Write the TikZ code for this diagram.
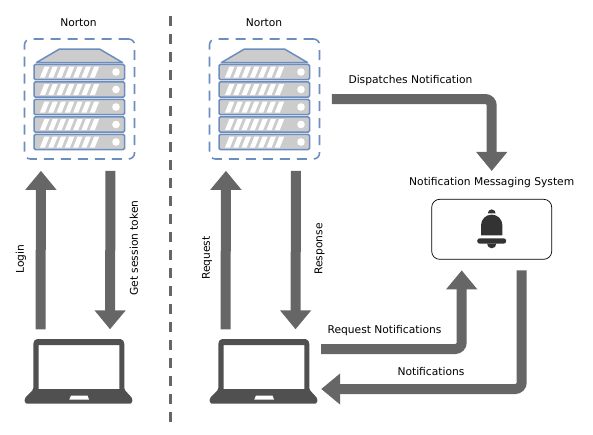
\documentclass[tikz,border=0pt]{standalone}
\usepackage{fontspec}
\setmainfont{DejaVu Sans}
\usetikzlibrary{arrows.meta, positioning}
\definecolor{serverblue}{HTML}{6C8EBF}
\definecolor{servergray}{HTML}{CCCCCC}
\definecolor{flowgray}{HTML}{666666}
\definecolor{laptopgray}{HTML}{505050}
\definecolor{bellgray}{HTML}{333333}
\tikzstyle{serverbox} = [rectangle, rounded corners=6pt, minimum width=110pt, minimum height=120pt, draw=serverblue, line width=1.6pt, dash pattern=on 10pt off 7pt]
\tikzstyle{laptopbox} = [rectangle, minimum width=108pt, minimum height=64pt]
\tikzstyle{bellbox} = [rectangle, rounded corners=8pt, minimum width=120pt, minimum height=60pt, draw=black, line width=0.7pt]
\tikzstyle{flow} = [line width=10pt, draw=flowgray, rounded corners=6.5pt, -{Triangle[width=30pt,length=19pt]}]
\tikzstyle{label} = [inner sep=0pt]
\tikzstyle{sidelabel} = [label, rotate=90]
\tikzset{
  server/.pic={
    \fill [servergray, draw=serverblue, line width=1.5pt, line join=round] (-43,36.5) -- (-20,50) -- (20,50) -- (43,36.5) -- cycle;
    \foreach \rowy in {27,9.5,-8,-25.5,-43} {
      \fill [servergray, draw=serverblue, line width=1.5pt, rounded corners=1.5pt] (-45.5,\rowy-7.7) rectangle (45,\rowy+7.7);
      \foreach \slash in {0,...,6} {
        \fill [white] (-39.5+\slash*8.3,\rowy-5.5) -- ++(5,0) -- ++(4.4,11) -- ++(-5,0) -- cycle;
      }
      \fill [white] (36.5,\rowy) circle (3.8);
    }
  },
  laptop/.pic={
    \fill [laptopgray, even odd rule, rounded corners=1.5pt] (-45.7,-18) -- (-45.7,29) -- (-43.7,32.3) -- (43.3,32.3) -- (45.3,29) -- (45.3,-18) -- (53.5,-27) -- (53,-32) -- (-54,-32) -- (-54.5,-27) -- cycle
      [sharp corners] (-40.3,26.5) rectangle (40.3,-17.5);
    \fill [white] (-8,-24) -- (8.5,-24) -- (10,-28) -- (-9.7,-28) -- cycle;
  },
  bell/.pic={
    \fill [bellgray] (0,0) -- (-10.7,0) -- (-10.7,10) arc (180:0:10.7) -- (10.7,0) -- cycle;
    \fill [bellgray] (-3.9,22) arc (180:0:3.9) -- cycle;
    \fill [bellgray, rounded corners=2.6pt] (-14.5,-8.4) rectangle (14.5,-3);
    \fill [bellgray] (-4.6,-8.4) arc (180:360:4.6);
  }
}

\begin{document}
\begin{tikzpicture}[x=1pt, y=1pt, node font=\fontsize{10.7}{13}\selectfont]
        \useasboundingbox (0,0) rectangle (593,-434);

        % Left side
        \node (serverA) [serverbox] at (79.5,-99) {};
        \pic at (serverA.center) {server};
        \node (laptopA) [laptopbox] at (79,-371.5) {};
        \pic at (laptopA.center) {laptop};
        \node (nortonA) [label] at (78.5,-22.7) {Norton};

        % Divider
        \coordinate (dividerTop) at (170,-16);
        \coordinate (dividerEnd) at (170,-422);
        \draw [draw=flowgray, line width=3pt, dash pattern=on 10pt off 8pt] (dividerTop) -- (dividerEnd);

        % Right side
        \node (serverB) [serverbox] at (264.5,-99) {};
        \pic at (serverB.center) {server};
        \node (laptopB) [laptopbox] at (264,-371.5) {};
        \pic at (laptopB.center) {laptop};
        \node (nortonB) [label] at (264,-22.7) {Norton};

        \node (bellNode) [bellbox] at (491.7,-229.3) {};
        \pic at ([yshift=-6pt]bellNode.center) {bell};
        \node (messaging) [label, above=11pt of bellNode] {Notification Messaging System};

        % Left arrows
        \draw [flow, shorten <=10pt, shorten >=11pt] ([xshift=-38.5pt]laptopA.north) -- ([xshift=-38.5pt]serverA.south);
        \draw [flow, shorten <=11pt, shorten >=10pt] ([xshift=31pt]serverA.south) -- ([xshift=31pt]laptopA.north);
        \node (login) [sidelabel] at (21,-259) {Login};
        \node (session) [sidelabel] at (134,-248) {Get session token};

        % Right arrows
        \draw [flow, shorten <=10pt, shorten >=11pt] ([xshift=-38.5pt]laptopB.north) -- ([xshift=-38.5pt]serverB.south);
        \draw [flow, shorten <=11pt, shorten >=10pt] ([xshift=31.5pt]serverB.south) -- ([xshift=31.5pt]laptopB.north);
        \node (request) [sidelabel] at (207,-258) {Request};
        \node (response) [sidelabel] at (319.5,-249) {Response};

        \draw [flow, shorten <=11.5pt, shorten >=28pt] (serverB.east) -| (bellNode.north);
        \draw [flow, shorten <=3pt, shorten >=10.7pt] ([yshift=22.5pt]laptopB.east) -| ([xshift=-30pt]bellNode.south);
        \draw [flow, shorten <=10.7pt, shorten >=3pt] ([xshift=30pt]bellNode.south) |- ([yshift=-17.5pt]laptopB.east);
        \node (dispatches) [label] at (410.5,-80.5) {Dispatches Notification};
        \node (requestN) [label] at (384.5,-330.5) {Request Notifications};
        \node (notes) [label] at (431,-372) {Notifications};
\end{tikzpicture}
\end{document}
